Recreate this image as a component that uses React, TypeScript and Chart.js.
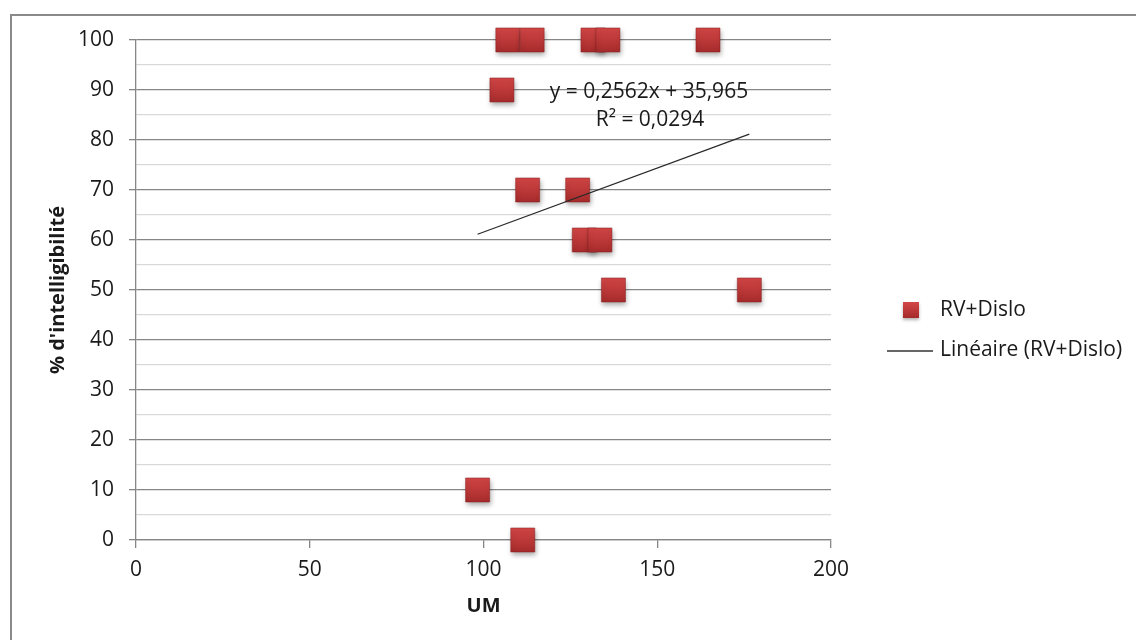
import React, { useEffect, useRef } from "react";
import { Chart, registerables } from "chart.js";

Chart.register(...registerables);

// ---- Data ----
const umValues = [107.0, 114.0, 131.5, 135.8, 164.6, 105.3, 112.7, 127.1, 129.0, 133.5, 137.4, 176.5, 98.3, 111.3];
const intelligibility = [100, 100, 100, 100, 100, 90, 70, 70, 60, 60, 50, 50, 10, 0];
const trendSlope = 0.2562;
const trendIntercept = 35.965;
const seriesLabel = "RV+Dislo";
const trendLabel = "Linéaire (RV+Dislo)";
const equationLines = ["y = 0,2562x + 35,965", "R² = 0,0294"];
const xTitle = "UM";
const yTitle = "% d'intelligibilité";
const xTicksStep = 50;
const yTicksStep = 5;

const FONT = "'Open Sans', 'DejaVu Sans', sans-serif";
const MAJOR = "#868686";
const MINOR = "#d9d9d9";

function markerGradient(ctx: CanvasRenderingContext2D, y: number, half: number) {
  const g = ctx.createLinearGradient(0, y - half, 0, y + half);
  g.addColorStop(0, "#d34646");
  g.addColorStop(1, "#a62b2b");
  return g;
}

const decorPlugin = {
  id: "decor",
  beforeDraw(chart: any) {
    const ctx = chart.ctx as CanvasRenderingContext2D;
    ctx.save();
    ctx.fillStyle = "#ffffff";
    ctx.fillRect(0, 0, chart.width, chart.height);
    ctx.strokeStyle = "#8a8a8a";
    ctx.lineWidth = 2;
    ctx.strokeRect(11, 15, chart.width + 50, chart.height + 50);
    ctx.restore();
  },
  beforeDatasetDraw(chart: any, args: any) {
    if (args.index === 1) {
      const ctx = chart.ctx as CanvasRenderingContext2D;
      ctx.save();
      ctx.shadowColor = "rgba(0,0,0,0.35)";
      ctx.shadowBlur = 5;
      ctx.shadowOffsetX = 1;
      ctx.shadowOffsetY = 3;
    }
  },
  afterDatasetDraw(chart: any, args: any) {
    if (args.index === 1) chart.ctx.restore();
  },
  afterDraw(chart: any) {
    const ctx = chart.ctx as CanvasRenderingContext2D;
    ctx.save();
    // equation label
    ctx.fillStyle = "#1a1a1a";
    ctx.font = `21px ${FONT}`;
    ctx.textAlign = "center";
    ctx.textBaseline = "middle";
    ctx.fillText(equationLines[0], 649, 92);
    ctx.fillText(equationLines[1], 650, 120);

    // legend
    ctx.save();
    ctx.shadowColor = "rgba(0,0,0,0.3)";
    ctx.shadowBlur = 3;
    ctx.shadowOffsetY = 2;
    ctx.fillStyle = markerGradient(ctx, 310, 8);
    ctx.fillRect(903, 302, 16, 16);
    ctx.restore();
    ctx.textAlign = "left";
    ctx.fillStyle = "#1a1a1a";
    ctx.fillText(seriesLabel, 940, 310);
    ctx.strokeStyle = "#333333";
    ctx.lineWidth = 1.3;
    ctx.beginPath();
    ctx.moveTo(887, 351);
    ctx.lineTo(933, 351);
    ctx.stroke();
    ctx.fillText(trendLabel, 940, 350);
    ctx.restore();
  },
};

export default function App() {
  const canvasRef = useRef<HTMLCanvasElement | null>(null);

  useEffect(() => {
    if (!canvasRef.current) return;
    const xMin = Math.min(...umValues);
    const xMax = Math.max(...umValues);
    const trendPoints = [xMin, xMax].map((x) => ({ x, y: trendSlope * x + trendIntercept }));
    const points = umValues.map((x, i) => ({ x, y: intelligibility[i] }));

    const chart = new Chart(canvasRef.current, {
      type: "scatter",
      data: {
        datasets: [
          {
            type: "line",
            label: trendLabel,
            data: trendPoints,
            borderColor: "#2a2a2a",
            borderWidth: 1.3,
            pointRadius: 0,
            fill: false,
            showLine: true,
          } as any,
          {
            type: "scatter",
            label: seriesLabel,
            data: points,
            pointStyle: "rect",
            pointRadius: 17,
            borderWidth: 1,
            borderColor: "rgba(140,30,30,0.5)",
            backgroundColor: (c: any) => {
              const ch = c.chart;
              if (c.type !== "data" || !ch.chartArea || !c.parsed) return "#c0393b";
              const y = ch.scales.y.getPixelForValue(c.parsed.y);
              return markerGradient(ch.ctx, y, 12);
            },
            clip: false,
          } as any,
        ],
      },
      options: {
        animation: false,
        responsive: true,
        maintainAspectRatio: false,
        events: [],
        layout: { padding: { left: 0, top: 40, right: 305, bottom: 0 } },
        plugins: {
          legend: { display: false },
          tooltip: { enabled: false },
        },
        scales: {
          x: {
            type: "linear",
            min: 0,
            max: 200,
            afterFit: (s: any) => {
              s.height = 100;
            },
            ticks: {
              stepSize: xTicksStep,
              padding: 9,
              color: "#1a1a1a",
              font: { family: FONT, size: 21 },
            },
            grid: {
              drawOnChartArea: false,
              tickLength: 8,
              tickColor: MAJOR,
              lineWidth: 1.3,
            },
            border: { color: MAJOR, width: 1.3 },
            title: {
              display: true,
              text: xTitle,
              color: "#1a1a1a",
              font: { family: FONT, size: 20, weight: "bold" },
              padding: { top: 0, bottom: 22 },
            },
          },
          y: {
            type: "linear",
            min: 0,
            max: 100,
            afterFit: (s: any) => {
              s.width = 136;
            },
            ticks: {
              stepSize: yTicksStep,
              autoSkip: false,
              padding: 15,
              color: "#1a1a1a",
              font: { family: FONT, size: 21 },
              callback: (v: any) => (Number(v) % 10 === 0 ? String(v) : ""),
            },
            grid: {
              tickLength: 7,
              color: (c: any) => (c.tick && c.tick.value % 10 === 0 ? MAJOR : MINOR),
              tickColor: (c: any) => (c.tick && c.tick.value % 10 === 0 ? MAJOR : "rgba(0,0,0,0)"),
              lineWidth: 1.3,
            },
            border: { color: MAJOR, width: 1.3 },
            title: {
              display: true,
              text: yTitle,
              color: "#1a1a1a",
              font: { family: FONT, size: 20, weight: "bold" },
              padding: { top: 46, bottom: 0 },
            },
          },
        },
      },
      plugins: [decorPlugin],
    } as any);

    return () => chart.destroy();
  }, []);

  return (
    <div style={{ position: "fixed", left: 0, top: 0, width: 1136, height: 640, background: "#fff" }}>
      <canvas ref={canvasRef} />
    </div>
  );
}
